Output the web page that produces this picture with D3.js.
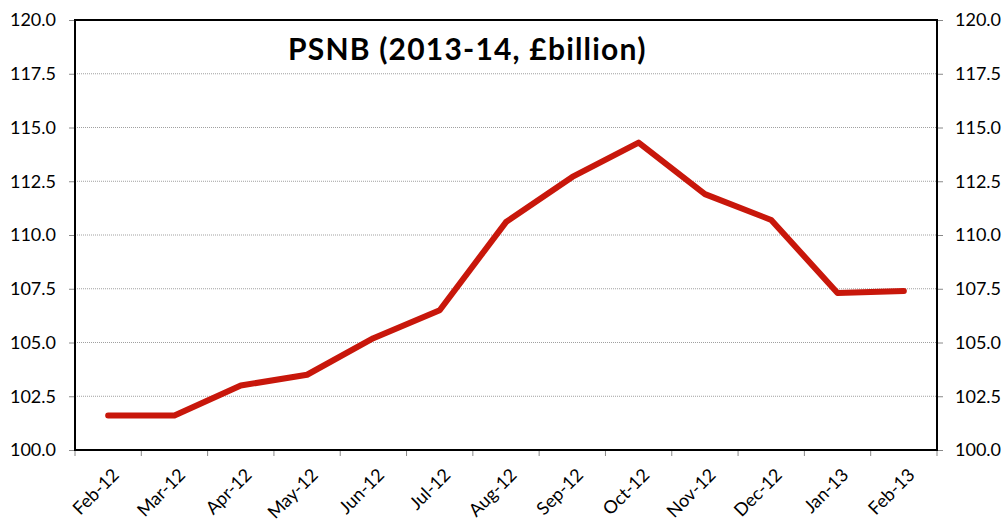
<!DOCTYPE html>
<html>
<head>
<meta charset="utf-8">
<script src="https://cdn.jsdelivr.net/npm/d3@7"></script>
<style>
  body { margin: 0; background: #fff; }
  text { font-family: "Gill Sans", Lato, "Open Sans", sans-serif; fill: #000; }
</style>
</head>
<body>
<svg id="chart" width="1006" height="524"></svg>
<script>
// data
var months = ["Feb-12", "Mar-12", "Apr-12", "May-12", "Jun-12", "Jul-12", "Aug-12",
  "Sep-12", "Oct-12", "Nov-12", "Dec-12", "Jan-13", "Feb-13"];
var psnb = [101.6, 101.6, 103.0, 103.5, 105.2, 106.5, 110.6, 112.7, 114.3, 111.9, 110.7, 107.3, 107.4];
var yTicks = [100, 102.5, 105, 107.5, 110, 112.5, 115, 117.5, 120];
var title = "PSNB (2013-14, £billion)";

var margin = { top: 20, right: 69, bottom: 74, left: 75 },
  width = 1006 - margin.left - margin.right,
  height = 524 - margin.top - margin.bottom;

var svg = d3.select("#chart")
  .append("g")
  .attr("transform", "translate(" + margin.left + "," + margin.top + ")");

var x = d3.scaleBand().domain(months).range([0, width]);
var y = d3.scaleLinear().domain([100, 120]).range([height, 0]);

// gridlines
svg.append("g").selectAll("line")
  .data(yTicks)
  .enter().append("line")
  .attr("x1", 0).attr("x2", width)
  .attr("y1", function (d) { return y(d); })
  .attr("y2", function (d) { return y(d); })
  .attr("stroke", "#a0a0a0")
  .attr("stroke-width", 1)
  .attr("stroke-dasharray", "1,1");

// left axis
var yLeft = svg.append("g")
  .call(d3.axisLeft(y).tickValues(yTicks).tickFormat(d3.format(".1f")).tickSize(6).tickPadding(13));
yLeft.select(".domain").remove();
yLeft.selectAll("line").attr("stroke", "#888");
yLeft.selectAll("text").style("font-size", "18px");

// right axis
var yRight = svg.append("g")
  .attr("transform", "translate(" + width + ",0)")
  .call(d3.axisRight(y).tickValues(yTicks).tickFormat(d3.format(".1f")).tickSize(6).tickPadding(12));
yRight.select(".domain").remove();
yRight.selectAll("line").attr("stroke", "#888");
yRight.selectAll("text").style("font-size", "18px");

// bottom axis, ticks at category boundaries
var bounds = d3.range(months.length + 1).map(function (i) { return i * x.step(); });
svg.append("g")
  .attr("transform", "translate(0," + height + ")")
  .selectAll("line")
  .data(bounds)
  .enter().append("line")
  .attr("x1", function (d) { return d; })
  .attr("x2", function (d) { return d; })
  .attr("y1", 0).attr("y2", 6)
  .attr("stroke", "#888");

var xAxis = svg.append("g")
  .attr("transform", "translate(0," + height + ")")
  .call(d3.axisBottom(x).tickSize(0).tickPadding(0));
xAxis.select(".domain").remove();
xAxis.selectAll("text")
  .style("font-size", "18px")
  .style("text-anchor", "end")
  .attr("dy", "0")
  .attr("transform", "translate(12,26) rotate(-45)");

// plot frame
svg.append("rect")
  .attr("width", width).attr("height", height)
  .attr("fill", "none")
  .attr("stroke", "#000")
  .attr("stroke-width", 2);

// the line
var line = d3.line()
  .x(function (d, i) { return x(months[i]) + x.bandwidth() / 2; })
  .y(function (d) { return y(d); });

svg.append("path")
  .datum(psnb)
  .attr("d", line)
  .attr("fill", "none")
  .attr("stroke", "#c8170b")
  .attr("stroke-width", 6)
  .attr("stroke-linejoin", "round")
  .attr("stroke-linecap", "round");

// title
svg.append("text")
  .attr("x", 213)
  .attr("y", 40)
  .style("font-size", "30px")
  .style("font-weight", "bold")
  .style("letter-spacing", "1.2px")
  .text(title);
</script>
</body>
</html>
